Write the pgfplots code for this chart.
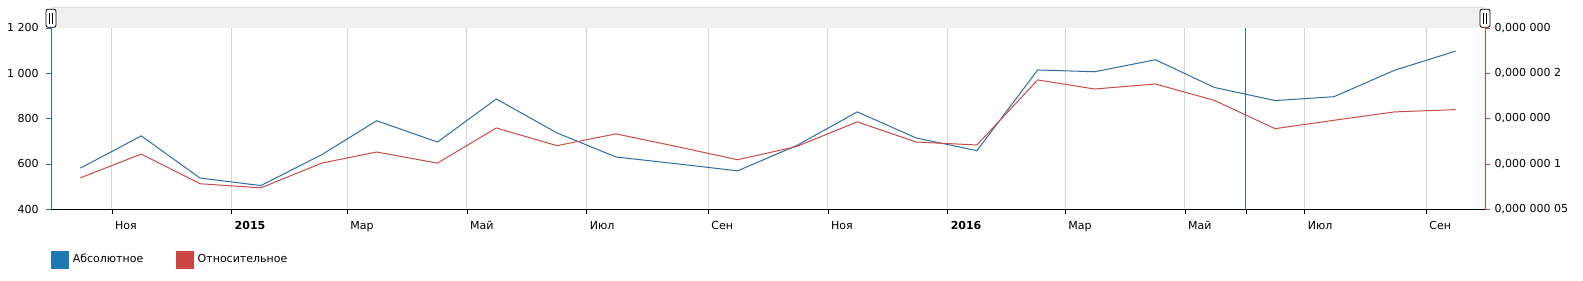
\documentclass[border=0pt]{standalone}
\usepackage{fontspec}
\setmainfont{DejaVu Sans}
\usepackage{pgfplots}
\pgfplotsset{compat=1.18}
\definecolor{bluec}{RGB}{31,119,180}
\definecolor{bluel}{RGB}{48,108,160}
\definecolor{redc}{RGB}{204,68,68}
\definecolor{redl}{RGB}{200,75,75}
\definecolor{gridc}{RGB}{214,214,214}
\definecolor{scrollc}{RGB}{240,240,240}
\definecolor{scrollb}{RGB}{222,222,222}
\newcommand{\fs}{\fontsize{8.25pt}{10pt}\selectfont}
\tikzset{handle/.style={draw=black, fill=white, rounded corners=1.5pt, line width=0.6pt,
        minimum width=7.5pt, minimum height=13.5pt, inner sep=0pt}}
\begin{document}
\begin{tikzpicture}
\pgfplotsset{
  base/.style={scale only axis, width=1075.5pt, height=136pt,
    xmin=0, xmax=731, at={(0,0)}, anchor=south west,
    /pgf/number format/assume math mode=true,
    scaled y ticks=false, scaled x ticks=false,
    tick align=outside, major tick length=4pt,
    ticklabel style={font=\fs}, clip=false},
}
\useasboundingbox (-38.25pt,-53.9pt) rectangle (1149pt,156.85pt);
\begin{axis}[base,
  ymin=400, ymax=1200,
  axis x line*=bottom, axis y line*=left,
  x axis line style={-, black}, y axis line style={-, bluel},
  ytick={400,600,800,1000,1200},
  yticklabels={400,600,800,1 000,1 200},
  ytick style={bluel},
  xtick style={black},
  xticklabel style={anchor=base west, inner sep=0pt, xshift=2.25pt, yshift=-11pt},
  yticklabel style={anchor=east, inner sep=0pt, xshift=-5pt},
  extra x ticks={609}, extra x tick labels={},
  extra x tick style={grid=none},
  xtick={31,92,151,212,273,335,396,457,517,578,639,701},
  xticklabels={Ноя,\textbf{2015},Мар,Май,Июл,Сен,Ноя,\textbf{2016},Мар,Май,Июл,Сен},
  xmajorgrids, grid style={gridc, line width=0.75pt},
  legend columns=2,
  legend style={at={(rel axis cs:0,0)}, anchor=north west, yshift=-31.3pt,
    draw=none, fill=none, inner sep=0pt, outer sep=0pt, font=\fs,
    nodes={inner sep=0pt},
    /tikz/every odd column/.append style={column sep=3.45pt},
    /tikz/every even column/.append style={column sep=24.5pt}},
  legend image code/.code={\fill[#1] (0pt,-6.25pt) rectangle (12.5pt,6.25pt);},
]
% scrollbar
\fill[scrollc] (rel axis cs:0,1) rectangle ([yshift=15.25pt]rel axis cs:1,1);
\draw[scrollb, line width=0.5pt] ([yshift=15.25pt]rel axis cs:0,1) -- ([yshift=15.25pt]rel axis cs:1,1);
% cursor
\draw[bluel, line width=0.75pt] (axis cs:609,1200) -- (axis cs:609,400);
\addplot[bluel, line width=0.75pt, forget plot] coordinates {
(15,581) (46,723) (76,537) (107,504) (138,640) (166,790) (197,696) (227,886)
(258,736) (288,630) (319,600) (350,569) (380,680) (411,829) (441,714) (472,658)
(503,1014) (532,1006) (563,1059) (593,937) (624,879) (654,896) (685,1013) (716,1097)};
\addlegendimage{bluec}
\addlegendentry{Абсолютное}
\addlegendimage{redc}
\addlegendentry{Относительное}
\end{axis}
\begin{axis}[base,
  ymin=5e-8, ymax=2.5e-7,
  hide x axis,
  axis y line*=right,
  y axis line style={-, redc},
  ytick style={redc},
  ytick={5e-8,1e-7,1.5e-7,2e-7,2.5e-7},
  yticklabels={{0,000 000 05},{0,000 000 1},{0,000 000},{0,000 000 2},{0,000 000}},
  yticklabel style={anchor=west, inner sep=0pt, xshift=3pt},
]
\addplot[redl, line width=0.75pt] coordinates {
(15,8.45e-8) (46,1.1075e-7) (76,7.8e-8) (107,7.35e-8) (138,1.0075e-7) (166,1.13e-7)
(197,1.0075e-7) (227,1.395e-7) (258,1.2e-7) (288,1.33e-7) (319,1.19e-7) (350,1.045e-7)
(380,1.19e-7) (411,1.4625e-7) (441,1.24e-7) (472,1.2075e-7) (503,1.925e-7) (532,1.825e-7)
(563,1.88e-7) (593,1.7e-7) (624,1.3875e-7) (654,1.48e-7) (685,1.5725e-7) (716,1.5975e-7)};
% scroll handles
\node[handle] at ([yshift=7.2pt]rel axis cs:0,1) {};
\draw[black, line width=0.6pt] ([xshift=-1.1pt,yshift=3.2pt]rel axis cs:0,1) -- ([xshift=-1.1pt,yshift=11.2pt]rel axis cs:0,1);
\draw[black, line width=0.6pt] ([xshift=1.1pt,yshift=3.2pt]rel axis cs:0,1) -- ([xshift=1.1pt,yshift=11.2pt]rel axis cs:0,1);
\node[handle] at ([yshift=7.2pt]rel axis cs:1,1) {};
\draw[black, line width=0.6pt] ([xshift=-1.1pt,yshift=3.2pt]rel axis cs:1,1) -- ([xshift=-1.1pt,yshift=11.2pt]rel axis cs:1,1);
\draw[black, line width=0.6pt] ([xshift=1.1pt,yshift=3.2pt]rel axis cs:1,1) -- ([xshift=1.1pt,yshift=11.2pt]rel axis cs:1,1);
\end{axis}
\end{tikzpicture}
\end{document}
